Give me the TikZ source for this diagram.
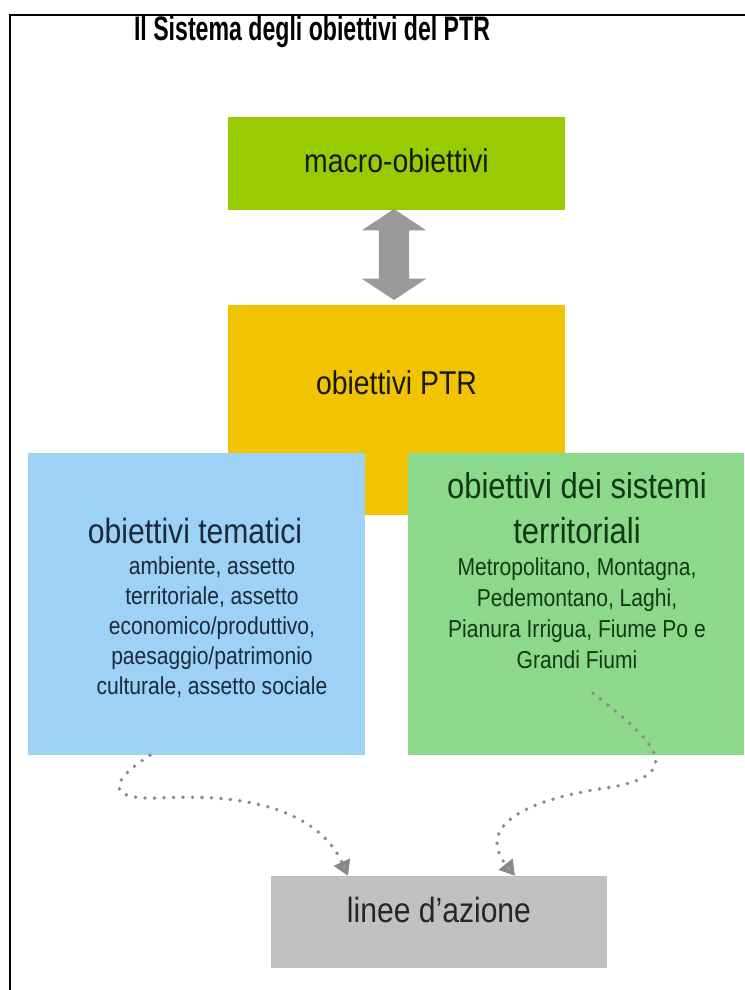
\documentclass[tikz,border=0pt]{standalone}
\usepackage{fontspec}
\setmainfont{Liberation Sans}[FakeStretch=0.86]
\newfontfamily\titlefont{Liberation Sans}[FakeStretch=0.68]
\usetikzlibrary{arrows.meta}
\usetikzlibrary{shapes.arrows}

\definecolor{macrogreen}{HTML}{99CC00}
\definecolor{ptryellow}{HTML}{F2C300}
\definecolor{temblue}{HTML}{9DD1F5}
\definecolor{sistgreen}{HTML}{8CD98C}
\definecolor{azgray}{HTML}{C0C0C0}
\definecolor{arrgray}{HTML}{9A9A9A}
\definecolor{dotgray}{HTML}{888888}
\definecolor{navytext}{HTML}{1C2A3A}
\definecolor{greentext}{HTML}{123A12}

\tikzset{
  box/.style={draw=none,inner sep=0pt,rectangle},
  lbl/.style={inner sep=0pt,align=center,text=#1},
  lbl/.default=black,
  dblarrow/.style={double arrow,fill=arrgray,draw=none,rotate=90,
    minimum height=91pt,inner xsep=0pt,inner ysep=15pt,
    double arrow head extend=17pt,double arrow tip angle=113},
  flow/.style={draw=dotgray,line width=3.8pt,line cap=round,
    dash pattern=on 0pt off 9.5pt,
    -{Triangle[length=15pt,width=17pt,fill=arrgray]}}
}

\begin{document}
\begin{tikzpicture}[x=1pt,y=-1pt]
  \useasboundingbox
    (0,0)
    rectangle
    (744,990);
  \draw[line width=2.5pt]
    (10,995)
    --
    (10,15)
    --
    (746,15);
  \node[lbl,font=\titlefont\fontsize{34}{40}\selectfont\bfseries] (title)
    at (312,32) {Il Sistema degli obiettivi del PTR};
  \node[box,fill=macrogreen,minimum width=337pt,minimum height=93pt] (macro)
    at (396.5,163.5) {};
  \node[lbl=black!90,font=\fontsize{33}{38}\selectfont] (macrotxt)
    at (396.5,161) {macro-obiettivi};
  \node[dblarrow] (link)
    at (394,254.5) {};
  \node[box,fill=ptryellow,minimum width=337pt,minimum height=210pt] (ptr)
    at (396.5,410) {};
  \node[lbl=black!90,font=\fontsize{33}{38}\selectfont] (ptrtxt)
    at (396.5,383) {obiettivi PTR};
  \node[box,fill=temblue,minimum width=337pt,minimum height=302pt] (them)
    at (196.5,604) {};
  \node[lbl=navytext,font=\fontsize{35}{40}\selectfont] (themtxt)
    at (195,531) {obiettivi tematici};
  \node[lbl=navytext,font=\fontsize{24.5}{30}\selectfont] (themsub)
    at (212,627) {ambiente, assetto\\territoriale, assetto\\economico/produttivo,\\paesaggio/patrimonio\\culturale, assetto sociale};
  \node[box,fill=sistgreen,minimum width=336pt,minimum height=302pt] (sist)
    at (576,604) {};
  \node[lbl=greentext,font=\fontsize{36}{45}\selectfont] (sisttxt)
    at (577,508) {obiettivi dei sistemi\\territoriali};
  \node[lbl=greentext,font=\fontsize{24.5}{31}\selectfont] (sistsub)
    at (577,613) {Metropolitano, Montagna,\\Pedemontano, Laghi,\\Pianura Irrigua, Fiume Po e\\Grandi Fiumi};
  \node[box,fill=azgray,minimum width=336pt,minimum height=92pt] (azioni)
    at (439,922) {};
  \node[lbl=black!85,font=\fontsize{35}{40}\selectfont] (azionitxt)
    at (439,910) {linee d'azione};
  \draw[flow]
    ([xshift=-46.5pt]them.south)
    .. controls (112,780) and (102,800) ..
    (160,798)
    .. controls (262,792) and (322,818) ..
    ([xshift=-91pt]azioni.north);
  \draw[flow]
    ([xshift=17pt,yshift=62pt]sist.south)
    .. controls (650,738) and (690,772) ..
    (613,787)
    .. controls (515,800) and (478,830) ..
    ([xshift=76pt]azioni.north);
\end{tikzpicture}
\end{document}
